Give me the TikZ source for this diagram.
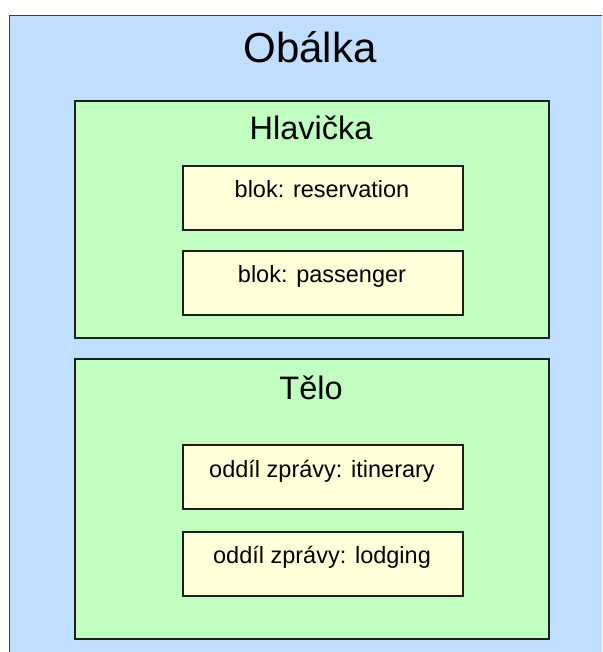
\documentclass[tikz,border=0pt]{standalone}
\usepackage{fontspec}
\setmainfont{Liberation Sans}
\usetikzlibrary{shadows}
\definecolor{envblue}{RGB}{192,223,255}
\definecolor{hdrgreen}{RGB}{192,255,192}
\definecolor{blkyellow}{RGB}{255,255,216}
\definecolor{edge}{RGB}{30,30,30}
\tikzset{
  panel/.style={draw=edge, line width=1.6pt, anchor=north west, inner sep=0pt,
    drop shadow={shadow xshift=1.2pt, shadow yshift=-1.2pt, opacity=0.45, fill=black}},
  greenbox/.style={panel, fill=hdrgreen, minimum width=474pt, minimum height=#1},
  yellowbox/.style={panel, fill=blkyellow, minimum width=280pt, minimum height=64pt},
  bigtitle/.style={anchor=base, font=\fontsize{42}{48}\selectfont, inner sep=0pt},
  midtitle/.style={anchor=base, font=\fontsize{32.5}{38}\selectfont, inner sep=0pt},
  smalltext/.style={anchor=base, font=\fontsize{23.5}{28}\selectfont, inner sep=0pt}
}
\begin{document}
\begin{tikzpicture}[x=1pt, y=-1pt]
\useasboundingbox (0,0) rectangle (602,652);
\clip (0,0) rectangle (602,652);
\fill[white] (0,0) rectangle (602,652);
% envelope
\node[draw=black!75, line width=1.4pt, fill=envblue, anchor=north west, inner sep=0pt,
      minimum width=640pt, minimum height=680pt] (env) at (9,15) {};
\node[bigtitle] (envtitle) at (310,63) {Obálka};
% header
\node[greenbox=237pt] (hdr) at (74,100) {};
\node[midtitle] (hdrtitle) at (311,140) {Hlavička};
\node[yellowbox] (b1) at (182,165) {};
\node[smalltext] (b1t) at (322,197) {blok: reservation};
\node[yellowbox] (b2) at (182,250) {};
\node[smalltext] (b2t) at (322,282) {blok: passenger};
% body
\node[greenbox=280pt] (body) at (74,358) {};
\node[midtitle] (bodytitle) at (311,399) {Tělo};
\node[yellowbox] (b3) at (182,444) {};
\node[smalltext] (b3t) at (322,477) {oddíl zprávy: itinerary};
\node[yellowbox] (b4) at (182,531) {};
\node[smalltext] (b4t) at (322,563) {oddíl zprávy: lodging};
\end{tikzpicture}
\end{document}
